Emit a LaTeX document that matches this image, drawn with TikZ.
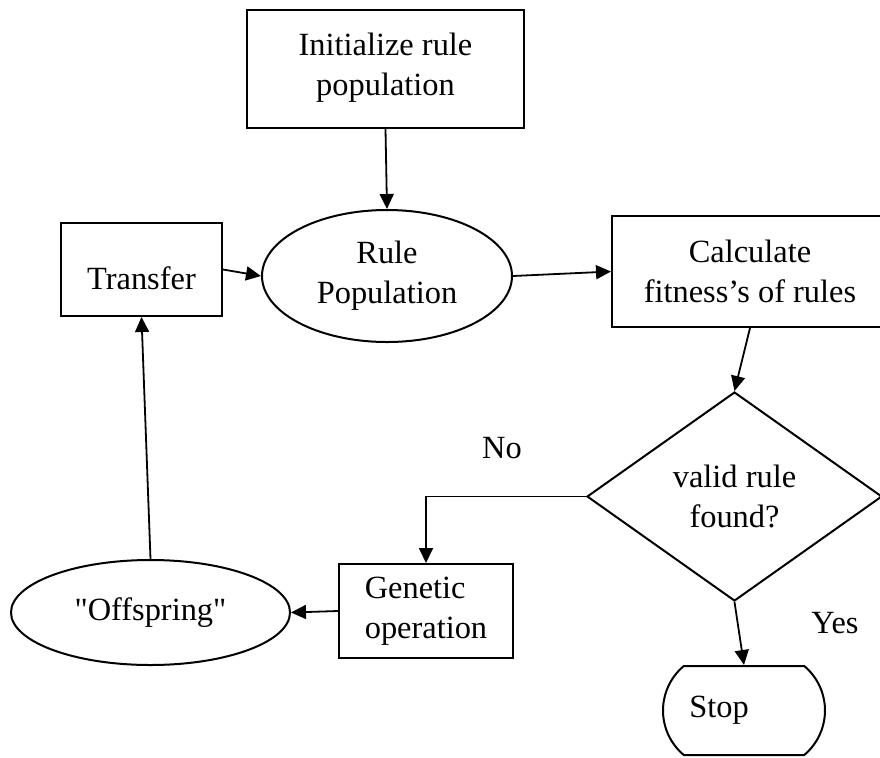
\documentclass[tikz,border=0pt]{standalone}
\usepackage{fontspec}
\setmainfont{Liberation Serif}
\newfontfamily\plainquotes{Liberation Serif}[Ligatures=TeXOff]
\usetikzlibrary{shapes.geometric,shapes.misc,arrows.meta,positioning,calc}

\begin{document}
\begin{tikzpicture}[
x=0.5pt, y=-0.5pt,
every node/.style={font=\fontsize{16.2pt}{20pt}\selectfont, line width=1pt, inner sep=0pt, align=center},
box/.style={draw, rectangle},
blob/.style={draw, ellipse},
arr/.style={line width=0.9pt, -{Triangle[length=7.5pt,width=7pt]}}
]

\useasboundingbox (0,0) rectangle (880,757);

% ================= NODES =================
\node[box, minimum width=138.5pt, minimum height=59pt] (init) at (385.5,69)
{Initialize rule\\population\\[-15pt]\mbox{}};

\node[blob, minimum width=125pt, minimum height=66pt] (rule) at (387,276)
{Rule\\Population};

\node[box, minimum width=80.5pt, minimum height=46.5pt] (transfer) at (141.5,269.5)
{\mbox{}\\Transfer};

\node[box, minimum width=138pt, minimum height=55.5pt] (calc) at (750,271.5)
{Calculate\\fitness’s of rules};

\node[draw, diamond, minimum width=147.5pt, minimum height=104.5pt] (valid) at (734.5,496.5)
{valid rule\\found?};

\node[box, minimum width=87pt, minimum height=47pt, align=left] (genetic) at (426,611)
{Genetic\\operation};

\node[blob, minimum width=139.5pt, minimum height=52.5pt] (offspring) at (150.5,612.5)
{\plainquotes "Offspring"};

\node[draw, rounded rectangle, rounded rectangle arc length=100,
minimum width=81pt, minimum height=44.5pt] (stop) at (744,710.5)
{Stop\hspace{25pt}};

% Branch labels
\node (no) at (502,448) {No};
\node (yes) at (835,623) {Yes};

% ================= ARROWS =================
\draw[arr] (init.south) -- (rule.north);
\draw[arr] (transfer.east) -- (rule.west);
\draw[arr] (rule.east) -- (calc.west);
\draw[arr] (calc.south) -- (valid.north);
\draw[arr] (valid.west) -| (genetic.north);
\draw[arr] (genetic.west) -- (offspring.east);
\draw[arr] (offspring.north) -- (transfer.south);
\draw[arr] (valid.south) -- (stop.north);

\end{tikzpicture}
\end{document}
